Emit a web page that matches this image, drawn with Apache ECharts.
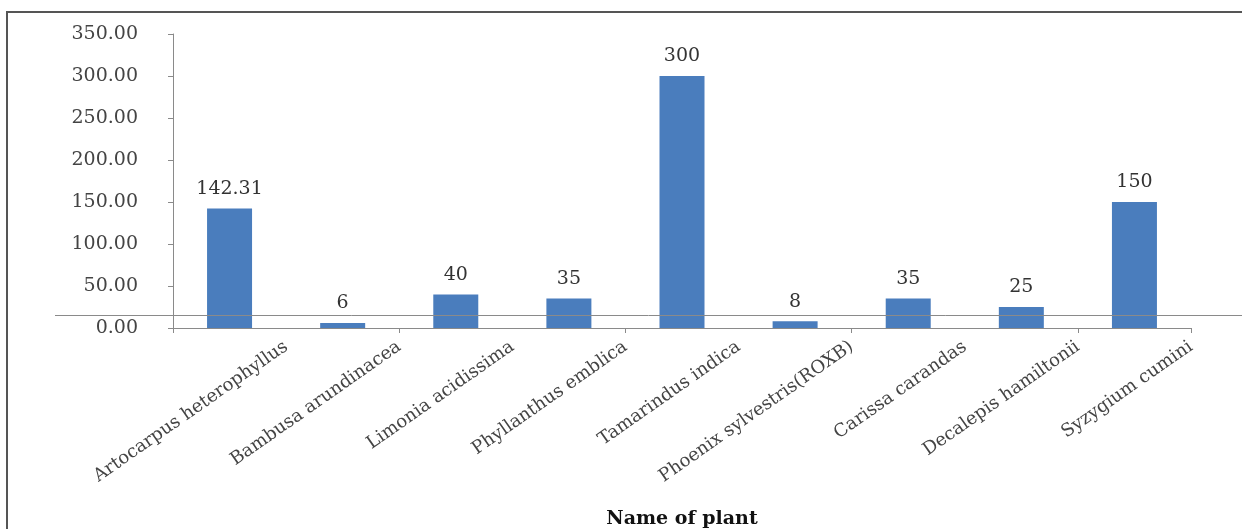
<!DOCTYPE html>
<html>
<head>
<meta charset="utf-8">
<script src="https://cdn.jsdelivr.net/npm/echarts@6/dist/echarts.min.js"></script>
<style>
    html, body { margin: 0; padding: 0; background: #fff; }
    #chart { width: 1242px; height: 529px; }
</style>
</head>
<body>
<div id="chart"></div>
<script>
// data
var plants = ['Artocarpus heterophyllus', 'Bambusa arundinacea', 'Limonia acidissima', 'Phyllanthus emblica',
    'Tamarindus indica', 'Phoenix sylvestris(ROXB)', 'Carissa carandas', 'Decalepis hamiltonii', 'Syzygium cumini'];
var values = [142.31, 6, 40, 35, 300, 8, 35, 25, 150];
var yTicks = [0, 50, 100, 150, 200, 250, 300, 350];

(function () {
    var myChart = echarts.init(document.getElementById('chart'));
    var serif = 'DejaVu Serif';
    var option = {
        backgroundColor: '#fff',
        animation: false,
        grid: {
            left: 173,
            right: 51,
            top: 34,
            bottom: 201,
            containLabel: false,
            outerBoundsMode: 'none'
        },
        // frame lines of the original picture
        graphic: [
            { type: 'line', shape: { x1: 6, y1: 12, x2: 1242, y2: 12 }, style: { stroke: '#555', lineWidth: 2 } },
            { type: 'line', shape: { x1: 7, y1: 11, x2: 7, y2: 529 }, style: { stroke: '#555', lineWidth: 2 } },
            { type: 'line', z: 100, shape: { x1: 55, y1: 315.5, x2: 1242, y2: 315.5 }, style: { stroke: '#8a8a8a', lineWidth: 1 } }
        ],
        xAxis: [
            {
                type: 'category',
                data: plants,
                boundaryGap: true,
                axisLine: { lineStyle: { color: '#8a8a8a', width: 1 } },
                axisTick: { show: true, length: 5, lineStyle: { color: '#8a8a8a' } },
                axisLabel: { show: false },
                name: 'Name of plant',
                nameLocation: 'middle',
                nameGap: 182,
                nameTextStyle: { fontFamily: serif, fontWeight: 'bold', fontSize: 19, color: '#111' }
            },
            {
                // labels sit on the right boundary of each category
                type: 'category',
                data: [''].concat(plants),
                boundaryGap: false,
                position: 'bottom',
                axisLine: { show: false },
                axisTick: { show: false },
                axisLabel: {
                    interval: 0,
                    rotate: 35,
                    margin: 17,
                    fontFamily: serif,
                    fontSize: 18,
                    color: '#444'
                }
            }
        ],
        yAxis: {
            type: 'value',
            min: yTicks[0],
            max: yTicks[yTicks.length - 1],
            interval: 50,
            axisLine: { show: true, lineStyle: { color: '#8a8a8a' } },
            axisTick: { show: true, length: 5, lineStyle: { color: '#8a8a8a' } },
            splitLine: { show: false },
            axisLabel: {
                margin: 35,
                fontFamily: serif,
                fontSize: 19,
                color: '#444',
                formatter: function (v) { return v.toFixed(2); }
            }
        },
        series: [
            {
                type: 'bar',
                xAxisIndex: 0,
                data: values,
                barWidth: 45,
                itemStyle: { color: '#4a7dbd' },
                label: {
                    show: true,
                    position: 'top',
                    distance: 10,
                    fontFamily: serif,
                    fontSize: 19,
                    color: '#333'
                }
            }
        ]
    };
    myChart.setOption(option);
})();
</script>
</body>
</html>
